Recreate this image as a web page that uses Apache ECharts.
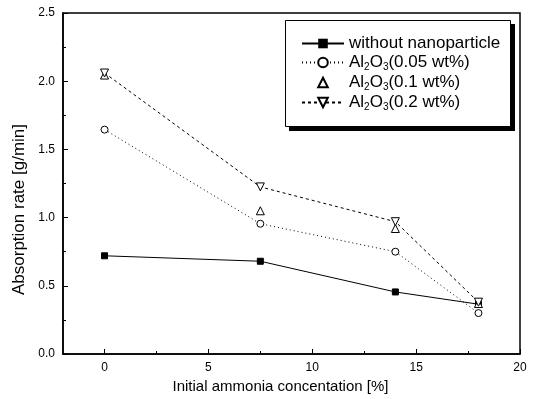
<!DOCTYPE html>
<html>
<head>
<meta charset="utf-8">
<script src="https://cdn.jsdelivr.net/npm/echarts@6/dist/echarts.min.js"></script>
<style>
html,body{margin:0;padding:0;background:#fff;}
#chart{width:535px;height:399px;}
</style>
</head>
<body>
<div id="chart"></div>
<script>
var concentration = [0, 7.5, 14, 18];
var withoutNano = [0.72, 0.68, 0.455, 0.365];
var al005 = [1.645, 0.955, 0.75, 0.30];
var al01 = [2.045, 1.05, 0.92, 0.37];
var al02 = [2.06, 1.225, 0.97, 0.38];
var xMajorTicks = [0, 5, 10, 15, 20];
var xMinorTicks = [2.5, 7.5, 12.5, 17.5];
var seriesNames = ['without nanoparticle', 'Al2O3(0.05 wt%)', 'Al2O3(0.1 wt%)', 'Al2O3(0.2 wt%)'];
var legendLabels = {
  'without nanoparticle': '{n|without nanoparticle}',
  'Al2O3(0.05 wt%)': '{n|Al}{s|2}{n|O}{s|3}{n|(0.05 wt%)}',
  'Al2O3(0.1 wt%)': '{n|Al}{s|2}{n|O}{s|3}{n|(0.1 wt%)}',
  'Al2O3(0.2 wt%)': '{n|Al}{s|2}{n|O}{s|3}{n|(0.2 wt%)}'
};

function pairs(ys) { return concentration.map(function (x, i) { return [x, ys[i]]; }); }

var font = 'Liberation Sans, Arial, sans-serif';
var chart = echarts.init(document.getElementById('chart'));
chart.setOption({
  animation: false,
  backgroundColor: '#fff',
  grid: { left: 63, right: 15, top: 13, bottom: 45, show: true, borderColor: '#000', borderWidth: 1.5, backgroundColor: 'transparent' },
  graphic: [
    { type: 'rect', z: 0, silent: true, shape: { x: 289, y: 24, width: 226, height: 107 }, style: { fill: '#000' } },
    { type: 'rect', z: 1, silent: true, shape: { x: 285.5, y: 20.5, width: 225, height: 106 }, style: { fill: '#fff', stroke: '#000', lineWidth: 1 } }
  ],
  xAxis: [{
    type: 'value', min: -2, max: 20,
    name: 'Initial ammonia concentation [%]', nameLocation: 'middle', nameGap: 25,
    nameTextStyle: { color: '#000', fontSize: 15, fontFamily: font, padding: [0, 22, 0, 0] },
    axisLine: { show: true, onZero: false, lineStyle: { color: '#000', width: 1.5 } },
    axisTick: { show: true, inside: true, length: 5, customValues: xMajorTicks, lineStyle: { color: '#000', width: 1 } },
    axisLabel: { customValues: xMajorTicks, color: '#000', fontSize: 12, fontFamily: font, margin: 8 },
    splitLine: { show: false }
  }, {
    type: 'value', min: -2, max: 20, position: 'bottom',
    axisLine: { show: false, onZero: false },
    axisTick: { show: true, inside: true, length: 3, customValues: xMinorTicks, lineStyle: { color: '#000', width: 1 } },
    axisLabel: { show: false },
    splitLine: { show: false }
  }],
  yAxis: {
    type: 'value', min: 0, max: 2.5, interval: 0.5,
    name: 'Absorption rate [g/min]', nameLocation: 'middle', nameGap: 33,
    nameTextStyle: { color: '#000', fontSize: 17, fontFamily: font, padding: [0, 52, 0, 0] },
    axisLine: { show: true, onZero: false, lineStyle: { color: '#000', width: 1.5 } },
    axisTick: { show: true, inside: true, length: 5, lineStyle: { color: '#000', width: 1 } },
    minorTick: { show: true, splitNumber: 2, length: 3, lineStyle: { color: '#000', width: 1 } },
    axisLabel: { color: '#000', fontSize: 12, fontFamily: font, margin: 8, formatter: function (v) { return v.toFixed(1); } },
    splitLine: { show: false }
  },
  legend: {
    orient: 'vertical', left: 285, top: 20, z: 5,
    padding: [15, 11, 16, 16],
    itemGap: 2, itemWidth: 42, itemHeight: 12,
    backgroundColor: 'transparent', borderWidth: 0,
    data: seriesNames,
    formatter: function (name) { return legendLabels[name]; },
    textStyle: {
      color: '#000', fontFamily: font, fontSize: 17,
      rich: {
        n: { color: '#000', fontFamily: font, fontSize: 17 },
        s: { color: '#000', fontFamily: font, fontSize: 10, verticalAlign: 'bottom', padding: [9, 0, 0, 0] }
      }
    }
  },
  series: [{
    name: seriesNames[0], type: 'line', data: pairs(withoutNano),
    symbol: 'rect', symbolSize: 6,
    lineStyle: { color: '#000', width: 1 },
    itemStyle: { color: '#000', borderColor: '#000' }
  }, {
    name: seriesNames[1], type: 'line', data: pairs(al005),
    symbol: 'circle', symbolSize: 7,
    lineStyle: { color: '#000', width: 1, type: [1, 3] },
    itemStyle: { color: '#fff', borderColor: '#000', borderWidth: 1 }
  }, {
    name: seriesNames[2], type: 'line', data: pairs(al01),
    symbol: 'triangle', symbolSize: 8,
    lineStyle: { color: '#000', width: 0, opacity: 0 },
    itemStyle: { color: '#fff', borderColor: '#000', borderWidth: 1 }
  }, {
    name: seriesNames[3], type: 'line', data: pairs(al02),
    symbol: 'triangle', symbolSize: 8, symbolRotate: 180,
    lineStyle: { color: '#000', width: 1, type: [3, 3] },
    itemStyle: { color: '#fff', borderColor: '#000', borderWidth: 1 }
  }]
});
</script>
</body>
</html>
